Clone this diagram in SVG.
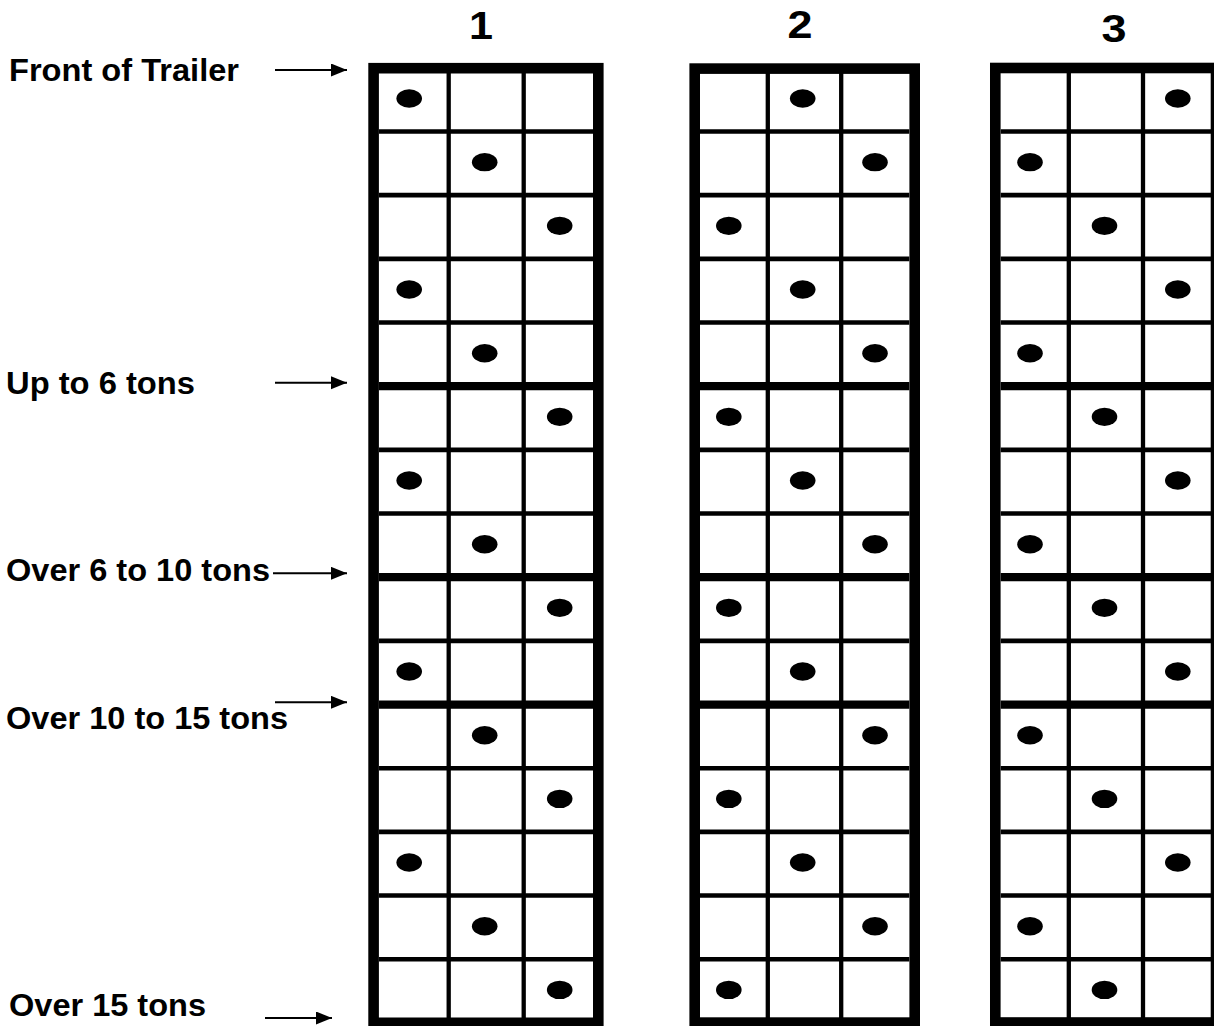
<svg xmlns="http://www.w3.org/2000/svg" width="1214" height="1026" viewBox="0 0 1214 1026">
<style>
  .frame { fill: none; stroke: #000; stroke-width: 10.6; }
  .v { stroke: #000; stroke-width: 4.3; }
  .h { stroke: #000; stroke-width: 4.6; }
  .hk { stroke: #000; stroke-width: 8.3; }
  .lbl { font-family: "Liberation Sans", Arial, sans-serif; font-weight: bold; font-size: 32px; fill: #000; }
  .num { font-family: "Liberation Sans", Arial, sans-serif; font-weight: bold; font-size: 38px; fill: #000; text-anchor: middle; }
  .arr { stroke: #000; stroke-width: 2; fill: none; marker-end: url(#ah); }
</style>
<defs>
  <marker id="ah" markerUnits="userSpaceOnUse" markerWidth="17" markerHeight="14" refX="16" refY="6.5" orient="auto">
    <path d="M0,0 L16,6.5 L0,13 z" fill="#000"/>
  </marker>
  <ellipse id="dot" cx="0" cy="0" rx="12.8" ry="9.2" fill="#000"/>
</defs>
<rect width="1214" height="1026" fill="#fff"/>

<g id="numbers">
  <text class="num" x="481" y="39" textLength="24" lengthAdjust="spacingAndGlyphs">1</text>
  <text class="num" x="800" y="38" textLength="25" lengthAdjust="spacingAndGlyphs">2</text>
  <text class="num" x="1114" y="42" textLength="25" lengthAdjust="spacingAndGlyphs">3</text>
</g>

<g id="label-front"><text class="lbl" x="9" y="81" textLength="230" lengthAdjust="spacingAndGlyphs">Front of Trailer</text></g>
<g id="label-6"><text class="lbl" x="6" y="394" textLength="189" lengthAdjust="spacingAndGlyphs">Up to 6 tons</text></g>
<g id="label-6-10"><text class="lbl" x="6" y="581" textLength="264" lengthAdjust="spacingAndGlyphs">Over 6 to 10 tons</text></g>
<g id="label-10-15"><text class="lbl" x="6" y="729" textLength="282" lengthAdjust="spacingAndGlyphs">Over 10 to 15 tons</text></g>
<g id="label-15"><text class="lbl" x="9" y="1016" textLength="197" lengthAdjust="spacingAndGlyphs">Over 15 tons</text></g>

<g id="connectors">
  <line class="arr" x1="275" y1="70" x2="347" y2="70"/>
  <line class="arr" x1="275" y1="382.7" x2="347" y2="382.7"/>
  <line class="arr" x1="273" y1="573.3" x2="347" y2="573.3"/>
  <line class="arr" x1="275" y1="702.3" x2="347" y2="702.3"/>
  <line class="arr" x1="265" y1="1018" x2="332" y2="1018"/>
</g>

<g id="grid1">
  <line class="v" x1="448.7" x2="448.7" y1="73" y2="1018"/>
  <line class="v" x1="523.7" x2="523.7" y1="73" y2="1018"/>
  <line class="h" x1="379" x2="593.3" y1="131.5" y2="131.5"/>
  <line class="h" x1="379" x2="593.3" y1="195.17" y2="195.17"/>
  <line class="h" x1="379" x2="593.3" y1="258.84" y2="258.84"/>
  <line class="h" x1="379" x2="593.3" y1="322.51" y2="322.51"/>
  <line class="hk" x1="379" x2="593.3" y1="386.18" y2="386.18"/>
  <line class="h" x1="379" x2="593.3" y1="449.85" y2="449.85"/>
  <line class="h" x1="379" x2="593.3" y1="513.52" y2="513.52"/>
  <line class="hk" x1="379" x2="593.3" y1="577.19" y2="577.19"/>
  <line class="h" x1="379" x2="593.3" y1="640.86" y2="640.86"/>
  <line class="hk" x1="379" x2="593.3" y1="704.53" y2="704.53"/>
  <line class="h" x1="379" x2="593.3" y1="768.2" y2="768.2"/>
  <line class="h" x1="379" x2="593.3" y1="831.87" y2="831.87"/>
  <line class="h" x1="379" x2="593.3" y1="895.54" y2="895.54"/>
  <line class="h" x1="379" x2="593.3" y1="959.21" y2="959.21"/>
  <rect class="frame" x="373.6" y="68.2" width="224.7" height="954.6"/>
  <use href="#dot" x="409.2" y="98.5"/>
  <use href="#dot" x="484.7" y="162.17"/>
  <use href="#dot" x="559.7" y="225.84"/>
  <use href="#dot" x="409.2" y="289.51"/>
  <use href="#dot" x="484.7" y="353.18"/>
  <use href="#dot" x="559.7" y="416.85"/>
  <use href="#dot" x="409.2" y="480.52"/>
  <use href="#dot" x="484.7" y="544.19"/>
  <use href="#dot" x="559.7" y="607.86"/>
  <use href="#dot" x="409.2" y="671.53"/>
  <use href="#dot" x="484.7" y="735.2"/>
  <use href="#dot" x="559.7" y="798.87"/>
  <use href="#dot" x="409.2" y="862.54"/>
  <use href="#dot" x="484.7" y="926.21"/>
  <use href="#dot" x="559.7" y="989.88"/>
</g>

<g id="grid2">
  <line class="v" x1="767.8" x2="767.8" y1="73" y2="1018"/>
  <line class="v" x1="841.2" x2="841.2" y1="73" y2="1018"/>
  <line class="h" x1="700" x2="909.3" y1="131.5" y2="131.5"/>
  <line class="h" x1="700" x2="909.3" y1="195.17" y2="195.17"/>
  <line class="h" x1="700" x2="909.3" y1="258.84" y2="258.84"/>
  <line class="h" x1="700" x2="909.3" y1="322.51" y2="322.51"/>
  <line class="hk" x1="700" x2="909.3" y1="386.18" y2="386.18"/>
  <line class="h" x1="700" x2="909.3" y1="449.85" y2="449.85"/>
  <line class="h" x1="700" x2="909.3" y1="513.52" y2="513.52"/>
  <line class="hk" x1="700" x2="909.3" y1="577.19" y2="577.19"/>
  <line class="h" x1="700" x2="909.3" y1="640.86" y2="640.86"/>
  <line class="hk" x1="700" x2="909.3" y1="704.53" y2="704.53"/>
  <line class="h" x1="700" x2="909.3" y1="768.2" y2="768.2"/>
  <line class="h" x1="700" x2="909.3" y1="831.87" y2="831.87"/>
  <line class="h" x1="700" x2="909.3" y1="895.54" y2="895.54"/>
  <line class="h" x1="700" x2="909.3" y1="959.21" y2="959.21"/>
  <rect class="frame" x="694.7" y="68.6" width="220" height="954"/>
  <use href="#dot" x="802.7" y="98.5"/>
  <use href="#dot" x="875" y="162.17"/>
  <use href="#dot" x="728.8" y="225.84"/>
  <use href="#dot" x="802.7" y="289.51"/>
  <use href="#dot" x="875" y="353.18"/>
  <use href="#dot" x="728.8" y="416.85"/>
  <use href="#dot" x="802.7" y="480.52"/>
  <use href="#dot" x="875" y="544.19"/>
  <use href="#dot" x="728.8" y="607.86"/>
  <use href="#dot" x="802.7" y="671.53"/>
  <use href="#dot" x="875" y="735.2"/>
  <use href="#dot" x="728.8" y="798.87"/>
  <use href="#dot" x="802.7" y="862.54"/>
  <use href="#dot" x="875" y="926.21"/>
  <use href="#dot" x="728.8" y="989.88"/>
</g>

<g id="grid3">
  <line class="v" x1="1068.8" x2="1068.8" y1="73" y2="1018"/>
  <line class="v" x1="1143" x2="1143" y1="73" y2="1018"/>
  <line class="h" x1="1000.7" x2="1211" y1="131.5" y2="131.5"/>
  <line class="h" x1="1000.7" x2="1211" y1="195.17" y2="195.17"/>
  <line class="h" x1="1000.7" x2="1211" y1="258.84" y2="258.84"/>
  <line class="h" x1="1000.7" x2="1211" y1="322.51" y2="322.51"/>
  <line class="hk" x1="1000.7" x2="1211" y1="386.18" y2="386.18"/>
  <line class="h" x1="1000.7" x2="1211" y1="449.85" y2="449.85"/>
  <line class="h" x1="1000.7" x2="1211" y1="513.52" y2="513.52"/>
  <line class="hk" x1="1000.7" x2="1211" y1="577.19" y2="577.19"/>
  <line class="h" x1="1000.7" x2="1211" y1="640.86" y2="640.86"/>
  <line class="hk" x1="1000.7" x2="1211" y1="704.53" y2="704.53"/>
  <line class="h" x1="1000.7" x2="1211" y1="768.2" y2="768.2"/>
  <line class="h" x1="1000.7" x2="1211" y1="831.87" y2="831.87"/>
  <line class="h" x1="1000.7" x2="1211" y1="895.54" y2="895.54"/>
  <line class="h" x1="1000.7" x2="1211" y1="959.21" y2="959.21"/>
  <rect class="frame" x="995.3" y="68" width="220.7" height="954.5"/>
  <use href="#dot" x="1177.8" y="98.5"/>
  <use href="#dot" x="1030" y="162.17"/>
  <use href="#dot" x="1104.5" y="225.84"/>
  <use href="#dot" x="1177.8" y="289.51"/>
  <use href="#dot" x="1030" y="353.18"/>
  <use href="#dot" x="1104.5" y="416.85"/>
  <use href="#dot" x="1177.8" y="480.52"/>
  <use href="#dot" x="1030" y="544.19"/>
  <use href="#dot" x="1104.5" y="607.86"/>
  <use href="#dot" x="1177.8" y="671.53"/>
  <use href="#dot" x="1030" y="735.2"/>
  <use href="#dot" x="1104.5" y="798.87"/>
  <use href="#dot" x="1177.8" y="862.54"/>
  <use href="#dot" x="1030" y="926.21"/>
  <use href="#dot" x="1104.5" y="989.88"/>
</g>
</svg>
